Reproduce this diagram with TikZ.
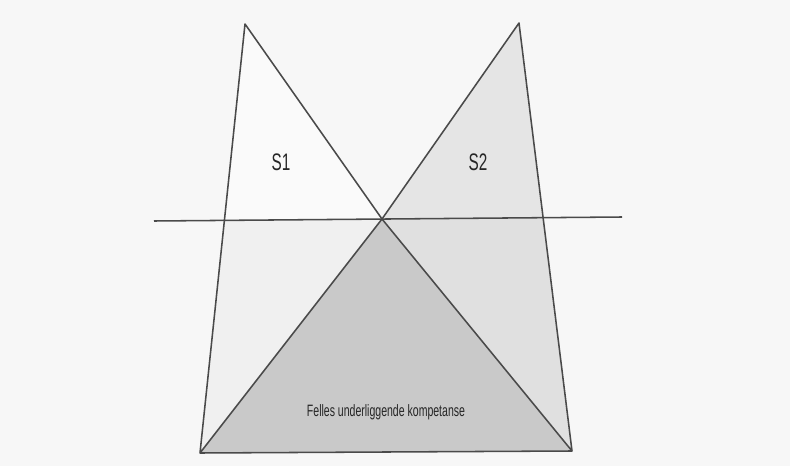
\documentclass[tikz,border=0pt]{standalone}
\usepackage{fontspec}
\setmainfont{Liberation Sans}
\usetikzlibrary{calc}
\definecolor{PageGray}{HTML}{F7F7F7}
\definecolor{EdgeGray}{HTML}{4A4A4A}
\newcommand{\narrowtext}[1]{\scalebox{0.64}[1]{#1}}
\tikzset{edge/.style={EdgeGray,line width=1.1pt,line join=round},
  label/.style={inner sep=0pt,text=black!85}}

\begin{document}
\begin{tikzpicture}[x=0.025cm,y=-0.025cm]
  \fill[PageGray] (0,0) rectangle (790,466);
  \useasboundingbox (0,0) rectangle (790,466);
  \coordinate (topL) at (245,24);
  \coordinate (topR) at (519,23);
  \coordinate (mid) at (382,219);
  \coordinate (botL) at (200,453);
  \coordinate (botR) at (572,451);
  \coordinate (lineL) at (154,221);
  \coordinate (lineR) at (622,217);
  \coordinate (cutL) at ($(topL)!0.4555!(botL)$);
  \coordinate (cutR) at ($(topR)!0.4556!(botR)$);
  \fill[white!98!black] (topL) -- (mid) -- (cutL) -- cycle;
  \fill[white!90!black] (topR) -- (mid) -- (cutR) -- cycle;
  \fill[white!94!black] (cutL) -- (mid) -- (botL) -- cycle;
  \fill[white!88!black] (cutR) -- (mid) -- (botR) -- cycle;
  \fill[white!79!black] (mid) -- (botL) -- (botR) -- cycle;
  \draw[edge] (botL) -- (topL) -- (mid) -- (topR) -- (botR) -- (botL) -- (mid) -- (botR);
  \draw[edge] (lineL) -- (lineR);
  \node[label,font=\fontsize{17}{20}\selectfont] (s1) at (281,162) {\narrowtext{S1}};
  \node[label,font=\fontsize{17}{20}\selectfont] (s2) at (478,162) {\narrowtext{S2}};
  \node[label,font=\fontsize{11.7}{14}\selectfont] (felles) at (386,412) {\narrowtext{Felles underliggende kompetanse}};
\end{tikzpicture}
\end{document}
